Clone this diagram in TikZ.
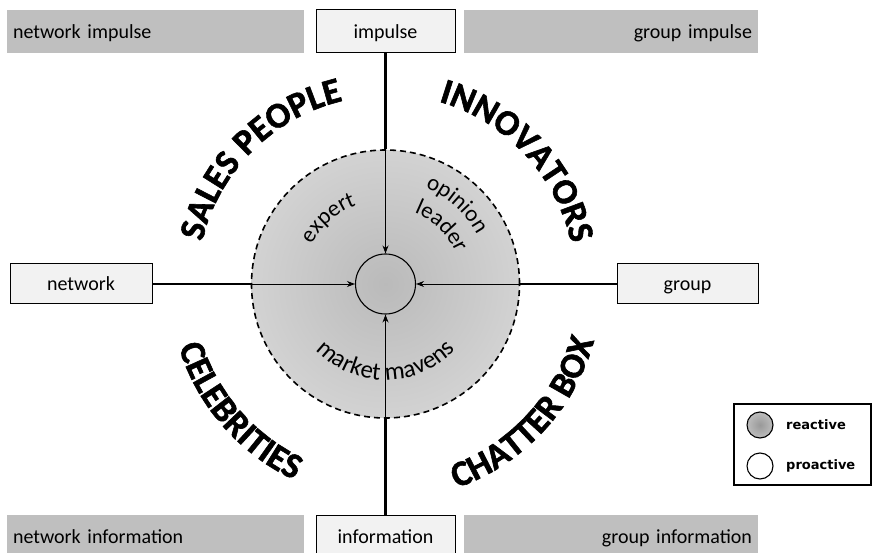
\documentclass[tikz,border=0pt]{standalone}
\usepackage{fontspec}
\setmainfont{Carlito}
\newfontfamily\heavyfont{Carlito}[BoldFeatures={FakeBold=1.6}]
\newfontfamily\keyfont{DejaVu Sans}
\usetikzlibrary{arrows.meta,decorations.text}
\definecolor{barfill}{HTML}{BFBFBF}
\definecolor{tabfill}{HTML}{F2F2F2}
\pgfdeclareradialshading{ringshade}{\pgfpoint{0bp}{0bp}}{color(0bp)=(black!27); color(50bp)=(black!8)}
\pgfdeclareradialshading{dotshade}{\pgfpoint{0bp}{0bp}}{color(0bp)=(black!40); color(50bp)=(black!12)}
\newcommand\labfont{\fontsize{20}{22}\selectfont}
\newcommand\innerfont{\fontsize{23}{26}\selectfont}
\newcommand\mavenfont{\fontsize{25}{28}\selectfont}
\newcommand\typefont{\heavyfont\bfseries\fontsize{36}{40}\selectfont}
\begin{document}
\begin{tikzpicture}[x=1pt,y=1pt,
  bar/.style={fill=barfill, minimum height=43pt, inner xsep=6pt, inner ysep=0pt,
              text height=18pt, text depth=4pt, font=\labfont},
  tab/.style={fill=tabfill, draw=black, line width=1pt, minimum height=43pt, inner sep=0pt,
              text height=18pt, text depth=4pt, font=\labfont},
  feed/.style={line width=2.6pt},
  pull/.style={line width=0.9pt, -{Stealth[length=8pt,width=6pt]}},
  arctext/.style={decorate, decoration={text along path, text align=center, text={#1}}}]
\useasboundingbox (0,0) rectangle (872,552);

% top row
\node[bar, text width=285pt, align=left] (netimp) at (155.5,520.5) {network impulse};
\node[tab, minimum width=139pt] (impulse) at (385.5,520.5) {impulse};
\node[bar, text width=282pt, align=right] (grpimp) at (611,520.5) {group impulse};

% bottom row
\node[bar, text width=285pt, align=left] (netinf) at (155.5,15.5) {network information};
\node[tab, minimum width=139pt] (information) at (385.5,15.5) {information};
\node[bar, text width=282pt, align=right] (grpinf) at (611,15.5) {group information};

% side boxes
\node[tab, minimum width=142pt, minimum height=40pt] (network) at (81,268) {network};
\node[tab, minimum width=141pt, minimum height=40pt] (group) at (687.5,268) {group};

% shaded ring and hub
\node[circle, minimum size=268pt, inner sep=0pt, shading=ringshade, draw=black,
      dash pattern=on 6pt off 4pt, line width=1.6pt] (ring) at (385.5,268) {};
\node[circle, minimum size=60pt, inner sep=0pt, draw=black, line width=1.1pt] (hub) at (385.5,268) {};

% connectors
\draw[feed] (impulse.south) -- (ring.north);
\draw[pull] (ring.north) -- (hub.north);
\draw[feed] (information.north) -- (ring.south);
\draw[pull] (ring.south) -- (hub.south);
\draw[feed] (network.east) -- (ring.west);
\draw[pull] (ring.west) -- (hub.west);
\draw[feed] (group.west) -- (ring.east);
\draw[pull] (ring.east) -- (hub.east);

% inner labels
\path[arctext={|\innerfont|expert}] (ring.center) ++(155:84) arc[start angle=155, end angle=107, radius=84];
\path[arctext={|\innerfont|opinion}] (ring.center) ++(75:104) arc[start angle=75, end angle=21, radius=104];
\path[arctext={|\innerfont|leader}] (ring.center) ++(75:77) arc[start angle=75, end angle=17, radius=77];
\path[arctext={|\mavenfont|market mavens}] (ring.center) ++(195:96) arc[start angle=195, end angle=345, radius=96];

% outer type labels
\path[arctext={|\typefont|SALES PEOPLE}] (ring.center) ++(180:188) arc[start angle=180, end angle=90, radius=188];
\path[arctext={|\typefont|INNOVATORS}] (ring.center) ++(88:190) arc[start angle=88, end angle=-2, radius=190];
\path[arctext={|\typefont|CELEBRITIES}] (ring.center) ++(176:216) arc[start angle=176, end angle=266, radius=216];
\path[arctext={|\typefont|CHATTER BOX}] (ring.center) ++(272:216) arc[start angle=272, end angle=362, radius=216];

% legend
\draw[line width=1.3pt] (734,67) rectangle (871,148);
\node[circle, minimum size=26pt, inner sep=0pt, shading=dotshade, draw=black, line width=1.1pt] (reactdot) at (760,127) {};
\node[circle, minimum size=26pt, inner sep=0pt, fill=white, draw=black, line width=1.1pt] (proactdot) at (760,86) {};
\node[anchor=west, inner sep=0pt, font=\keyfont\bfseries\fontsize{13}{15}\selectfont] (reactlbl) at (786,127) {reactive};
\node[anchor=west, inner sep=0pt, font=\keyfont\bfseries\fontsize{13}{15}\selectfont] (proactlbl) at (786,86) {proactive};
\end{tikzpicture}
\end{document}
